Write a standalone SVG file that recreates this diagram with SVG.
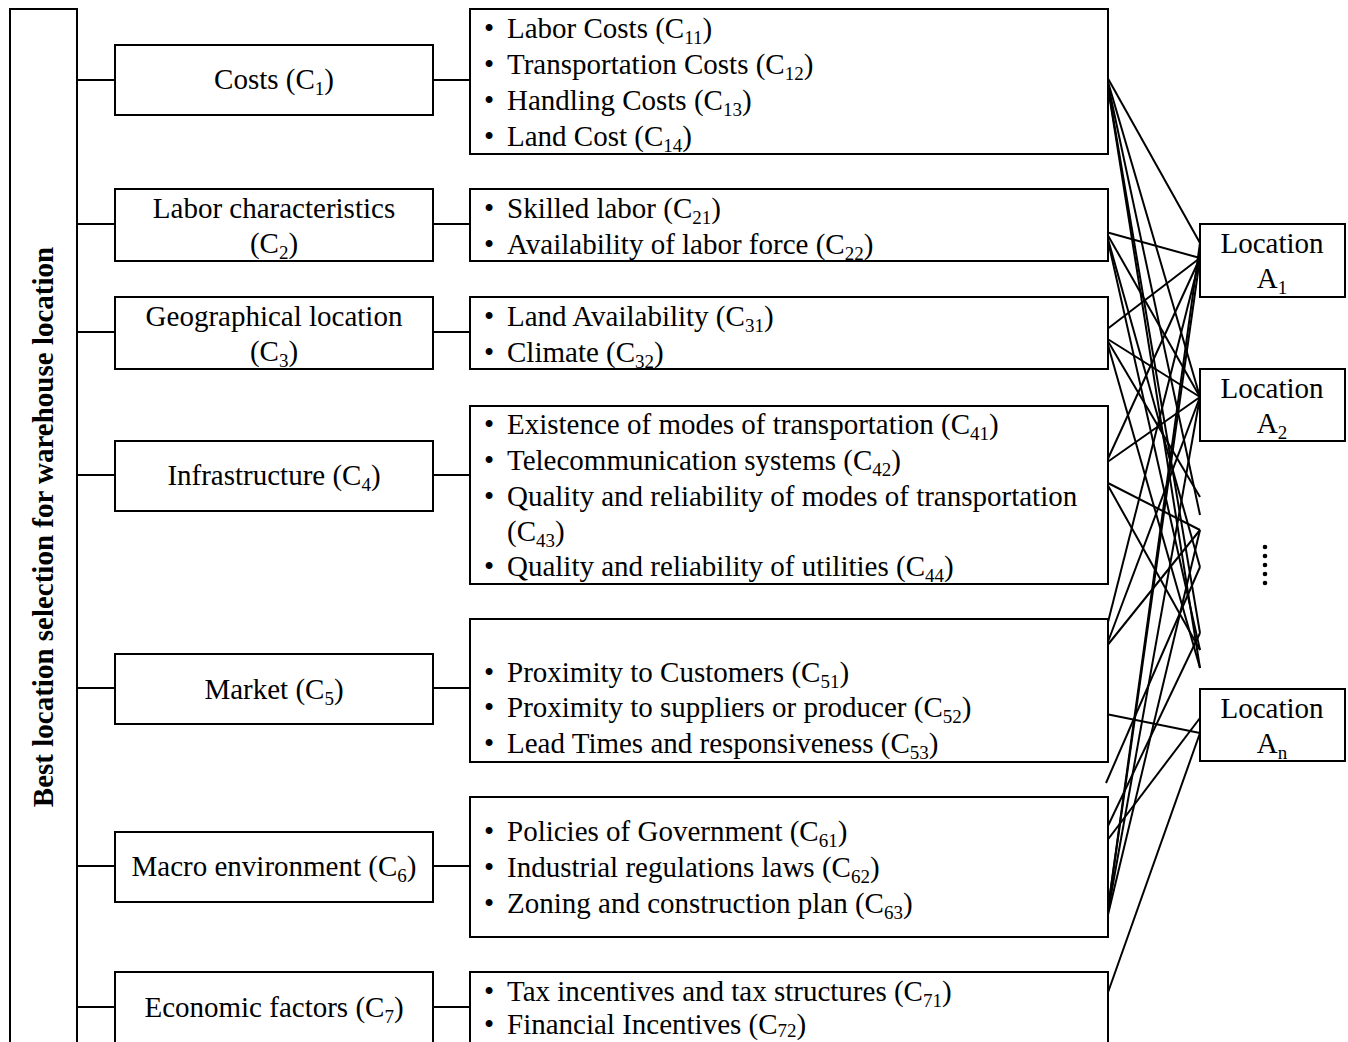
<svg xmlns="http://www.w3.org/2000/svg" width="1348" height="1042" viewBox="0 0 1348 1042">
<style>
.box{fill:#fff;stroke:#000;stroke-width:2}
.t{font-family:"Liberation Serif","Times New Roman",serif;font-size:29px;fill:#000}
.c{text-anchor:middle}
.s{font-size:19px}
.b{font-weight:bold}
.ln{stroke:#000;stroke-width:2;fill:none}
</style>
<rect width="1348" height="1042" fill="#fff"/>
<g id="goal">
<rect class="box" x="10" y="9" width="67" height="1060"/>
<text class="t b c" transform="translate(53,527) rotate(-90)">Best location selection for warehouse location</text>
</g>
<g id="connectors">
<path class="ln" d="M77,80H115M77,224H115M77,332H115M77,475H115M77,688H115M77,866H115M77,1007H115"/>
<path class="ln" d="M433,80H470M433,224H470M433,332H470M433,475H470M433,688H470M433,866H470M433,1007H470"/>
<g class="ln">
<line x1="1106" y1="75" x2="1200" y2="243"/>
<line x1="1106" y1="75" x2="1200" y2="397"/>
<line x1="1106" y1="75" x2="1200" y2="515"/>
<line x1="1106" y1="75" x2="1200" y2="633"/>
<line x1="1106" y1="75" x2="1200" y2="668"/>
<line x1="1106" y1="232" x2="1200" y2="258"/>
<line x1="1106" y1="232" x2="1200" y2="397"/>
<line x1="1106" y1="232" x2="1200" y2="567"/>
<line x1="1106" y1="232" x2="1200" y2="650"/>
<line x1="1106" y1="330" x2="1200" y2="258"/>
<line x1="1106" y1="338" x2="1200" y2="397"/>
<line x1="1106" y1="338" x2="1200" y2="497"/>
<line x1="1106" y1="338" x2="1200" y2="668"/>
<line x1="1106" y1="463" x2="1200" y2="258"/>
<line x1="1106" y1="463" x2="1200" y2="397"/>
<line x1="1106" y1="482" x2="1200" y2="530"/>
<line x1="1106" y1="482" x2="1200" y2="650"/>
<line x1="1106" y1="630" x2="1200" y2="258"/>
<line x1="1106" y1="647" x2="1200" y2="397"/>
<line x1="1106" y1="647" x2="1200" y2="530"/>
<line x1="1106" y1="714" x2="1200" y2="733"/>
<line x1="1106" y1="783" x2="1200" y2="567"/>
<line x1="1106" y1="830" x2="1200" y2="633"/>
<line x1="1106" y1="842" x2="1200" y2="718"/>
<line x1="1106" y1="923" x2="1200" y2="243"/>
<line x1="1106" y1="923" x2="1200" y2="258"/>
<line x1="1106" y1="923" x2="1200" y2="397"/>
<line x1="1106" y1="923" x2="1200" y2="530"/>
<line x1="1106" y1="998" x2="1200" y2="733"/>
</g>
</g>
<g id="c1">
<rect class="box" x="115" y="45" width="318" height="70"/>
<text class="t c" x="274" y="89">Costs (C<tspan class="s" dy="6">1</tspan><tspan dy="-6">)</tspan></text>
</g>
<g id="c2">
<rect class="box" x="115" y="189" width="318" height="72"/>
<text class="t c" x="274" y="218">Labor characteristics</text>
<text class="t c" x="274" y="253">(C<tspan class="s" dy="6">2</tspan><tspan dy="-6">)</tspan></text>
</g>
<g id="c3">
<rect class="box" x="115" y="297" width="318" height="72"/>
<text class="t c" x="274" y="326">Geographical location</text>
<text class="t c" x="274" y="361">(C<tspan class="s" dy="6">3</tspan><tspan dy="-6">)</tspan></text>
</g>
<g id="c4">
<rect class="box" x="115" y="441" width="318" height="70"/>
<text class="t c" x="274" y="485">Infrastructure (C<tspan class="s" dy="6">4</tspan><tspan dy="-6">)</tspan></text>
</g>
<g id="c5">
<rect class="box" x="115" y="654" width="318" height="70"/>
<text class="t c" x="274" y="699">Market (C<tspan class="s" dy="6">5</tspan><tspan dy="-6">)</tspan></text>
</g>
<g id="c6">
<rect class="box" x="115" y="832" width="318" height="70"/>
<text class="t c" x="274" y="876">Macro environment (C<tspan class="s" dy="6">6</tspan><tspan dy="-6">)</tspan></text>
</g>
<g id="c7">
<rect class="box" x="115" y="972" width="318" height="90"/>
<text class="t c" x="274" y="1017">Economic factors (C<tspan class="s" dy="6">7</tspan><tspan dy="-6">)</tspan></text>
</g>
<g id="s1">
<rect class="box" x="470" y="9" width="638" height="145"/>
<text class="t" x="484" y="38">•</text><text class="t" x="507" y="38">Labor Costs (C<tspan class="s" dy="6">11</tspan><tspan dy="-6">)</tspan></text>
<text class="t" x="484" y="74">•</text><text class="t" x="507" y="74">Transportation Costs (C<tspan class="s" dy="6">12</tspan><tspan dy="-6">)</tspan></text>
<text class="t" x="484" y="110">•</text><text class="t" x="507" y="110">Handling Costs (C<tspan class="s" dy="6">13</tspan><tspan dy="-6">)</tspan></text>
<text class="t" x="484" y="146">•</text><text class="t" x="507" y="146">Land Cost (C<tspan class="s" dy="6">14</tspan><tspan dy="-6">)</tspan></text>
</g>
<g id="s2">
<rect class="box" x="470" y="189" width="638" height="72"/>
<text class="t" x="484" y="218">•</text><text class="t" x="507" y="218">Skilled labor (C<tspan class="s" dy="6">21</tspan><tspan dy="-6">)</tspan></text>
<text class="t" x="484" y="254">•</text><text class="t" x="507" y="254">Availability of labor force (C<tspan class="s" dy="6">22</tspan><tspan dy="-6">)</tspan></text>
</g>
<g id="s3">
<rect class="box" x="470" y="297" width="638" height="72"/>
<text class="t" x="484" y="326">•</text><text class="t" x="507" y="326">Land Availability (C<tspan class="s" dy="6">31</tspan><tspan dy="-6">)</tspan></text>
<text class="t" x="484" y="362">•</text><text class="t" x="507" y="362">Climate (C<tspan class="s" dy="6">32</tspan><tspan dy="-6">)</tspan></text>
</g>
<g id="s4">
<rect class="box" x="470" y="406" width="638" height="178"/>
<text class="t" x="484" y="434">•</text><text class="t" x="507" y="434">Existence of modes of transportation (C<tspan class="s" dy="6">41</tspan><tspan dy="-6">)</tspan></text>
<text class="t" x="484" y="470">•</text><text class="t" x="507" y="470">Telecommunication systems (C<tspan class="s" dy="6">42</tspan><tspan dy="-6">)</tspan></text>
<text class="t" x="484" y="506">•</text><text class="t" x="507" y="506">Quality and reliability of modes of transportation</text>
<text class="t" x="507" y="541">(C<tspan class="s" dy="6">43</tspan><tspan dy="-6">)</tspan></text>
<text class="t" x="484" y="576">•</text><text class="t" x="507" y="576">Quality and reliability of utilities (C<tspan class="s" dy="6">44</tspan><tspan dy="-6">)</tspan></text>
</g>
<g id="s5">
<rect class="box" x="470" y="619" width="638" height="143"/>
<text class="t" x="484" y="682">•</text><text class="t" x="507" y="682">Proximity to Customers (C<tspan class="s" dy="6">51</tspan><tspan dy="-6">)</tspan></text>
<text class="t" x="484" y="717">•</text><text class="t" x="507" y="717">Proximity to suppliers or producer (C<tspan class="s" dy="6">52</tspan><tspan dy="-6">)</tspan></text>
<text class="t" x="484" y="753">•</text><text class="t" x="507" y="753">Lead Times and responsiveness (C<tspan class="s" dy="6">53</tspan><tspan dy="-6">)</tspan></text>
</g>
<g id="s6">
<rect class="box" x="470" y="797" width="638" height="140"/>
<text class="t" x="484" y="841">•</text><text class="t" x="507" y="841">Policies of Government (C<tspan class="s" dy="6">61</tspan><tspan dy="-6">)</tspan></text>
<text class="t" x="484" y="877">•</text><text class="t" x="507" y="877">Industrial regulations laws (C<tspan class="s" dy="6">62</tspan><tspan dy="-6">)</tspan></text>
<text class="t" x="484" y="913">•</text><text class="t" x="507" y="913">Zoning and construction plan (C<tspan class="s" dy="6">63</tspan><tspan dy="-6">)</tspan></text>
</g>
<g id="s7">
<rect class="box" x="470" y="972" width="638" height="90"/>
<text class="t" x="484" y="1001">•</text><text class="t" x="507" y="1001">Tax incentives and tax structures (C<tspan class="s" dy="6">71</tspan><tspan dy="-6">)</tspan></text>
<text class="t" x="484" y="1034">•</text><text class="t" x="507" y="1034">Financial Incentives (C<tspan class="s" dy="3">72</tspan><tspan dy="-3">)</tspan></text>
</g>
<g id="a1">
<rect class="box" x="1200" y="224" width="145" height="73"/>
<text class="t c" x="1272" y="253">Location</text>
<text class="t c" x="1272" y="288">A<tspan class="s" dy="6">1</tspan></text>
</g>
<g id="a2">
<rect class="box" x="1200" y="369" width="145" height="72"/>
<text class="t c" x="1272" y="398">Location</text>
<text class="t c" x="1272" y="433">A<tspan class="s" dy="6">2</tspan></text>
</g>
<g id="dots">
<circle cx="1265" cy="547" r="2.3"/>
<circle cx="1265" cy="556" r="2.3"/>
<circle cx="1265" cy="565" r="2.3"/>
<circle cx="1265" cy="574" r="2.3"/>
<circle cx="1265" cy="583" r="2.3"/>
</g>
<g id="an">
<rect class="box" x="1200" y="689" width="145" height="72"/>
<text class="t c" x="1272" y="718">Location</text>
<text class="t c" x="1272" y="753">A<tspan class="s" dy="6">n</tspan></text>
</g>
</svg>
